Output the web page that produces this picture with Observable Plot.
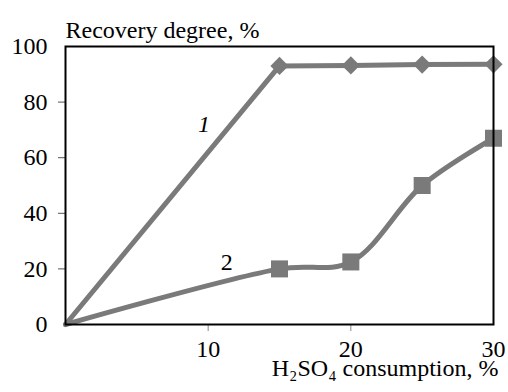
<!DOCTYPE html>
<html>
<head>
<meta charset="utf-8">
<script src="https://cdn.jsdelivr.net/npm/d3@7"></script>
<script src="https://cdn.jsdelivr.net/npm/@observablehq/plot@0.6"></script>
<style>
  html, body { margin: 0; padding: 0; background: #fff; }
  #chart { width: 508px; height: 392px; }
</style>
</head>
<body>
<div id="chart"></div>
<script>
const consumption = [0, 15, 20, 25, 30];
const series1 = [0, 93, 93.2, 93.5, 93.6];
const series2 = [0, 20, 22.5, 50, 67];
const curveLabels = ["1", "2"];
const labelX = [9.7, 11.3];
const labelY = [72, 22.5];
const yTicks = [0, 20, 40, 60, 80, 100];
const yMinorTicks = [20, 40, 60, 80];
const xTicks = [10, 20, 30];
const xMinorTicks = [10, 20];
const yTitle = "Recovery degree, %";
const xTitle = "H\u2082SO\u2084 consumption, %";

const d1 = consumption.slice(1).map((x, i) => ({x, y: series1[i + 1]}));
const line1 = consumption.map((x, i) => ({x, y: series1[i]}));
const line2 = consumption.map((x, i) => ({x, y: series2[i]}));
const d2 = consumption.slice(1).map((x, i) => ({x, y: series2[i + 1]}));
const lab1 = [{t: curveLabels[0], x: labelX[0], y: labelY[0]}];
const lab2 = [{t: curveLabels[1], x: labelX[1], y: labelY[1]}];

const gray = "#7a7a7a";
const font = "'Liberation Serif', 'Times New Roman', serif";

const chart = Plot.plot({
  width: 508,
  height: 392,
  marginLeft: 65,
  marginRight: 15,
  marginTop: 46,
  marginBottom: 68,
  style: {fontFamily: font, fontSize: "24px", background: "#fff", color: "#000"},
  x: {domain: [0, 30]},
  y: {domain: [0, 100]},
  marks: [
    Plot.axisY({ticks: yTicks, tickSize: 0, tickPadding: 18, label: null, fontSize: 24, fontFamily: font}),
    Plot.axisY({ticks: yMinorTicks, tickSize: 7, text: null, label: null, stroke: "#555"}),
    Plot.axisX({ticks: xTicks, tickSize: 0, tickPadding: 15, label: null, fontSize: 24, fontFamily: font}),
    Plot.axisX({ticks: xMinorTicks, tickSize: 7, text: null, label: null, stroke: "#888"}),
    Plot.line(line2, {x: "x", y: "y", stroke: gray, strokeWidth: 5, curve: "catmull-rom"}),
    Plot.line(line1, {x: "x", y: "y", stroke: gray, strokeWidth: 5}),
    Plot.dot(d1, {x: "x", y: "y", symbol: "diamond2", r: 8.2, fill: gray}),
    Plot.dot(d2, {x: "x", y: "y", symbol: "square", r: 9.6, fill: gray}),
    Plot.frame({stroke: "#000", strokeWidth: 2}),
    Plot.text(lab1, {x: "x", y: "y", text: "t", fontSize: 24, fontStyle: "italic", fontFamily: font, fill: "#000"}),
    Plot.text(lab2, {x: "x", y: "y", text: "t", fontSize: 24, fontFamily: font, fill: "#000"}),
    Plot.text([yTitle], {frameAnchor: "top-left", text: (d) => d, dy: -26, dx: 0, textAnchor: "start", fontSize: 24, fontFamily: font, fill: "#000"}),
    Plot.text([xTitle], {frameAnchor: "bottom-right", text: (d) => d, dy: 51, dx: 5, textAnchor: "end", fontSize: 24, fontFamily: font, fill: "#000"})
  ]
});
document.getElementById("chart").append(chart);
</script>
</body>
</html>
